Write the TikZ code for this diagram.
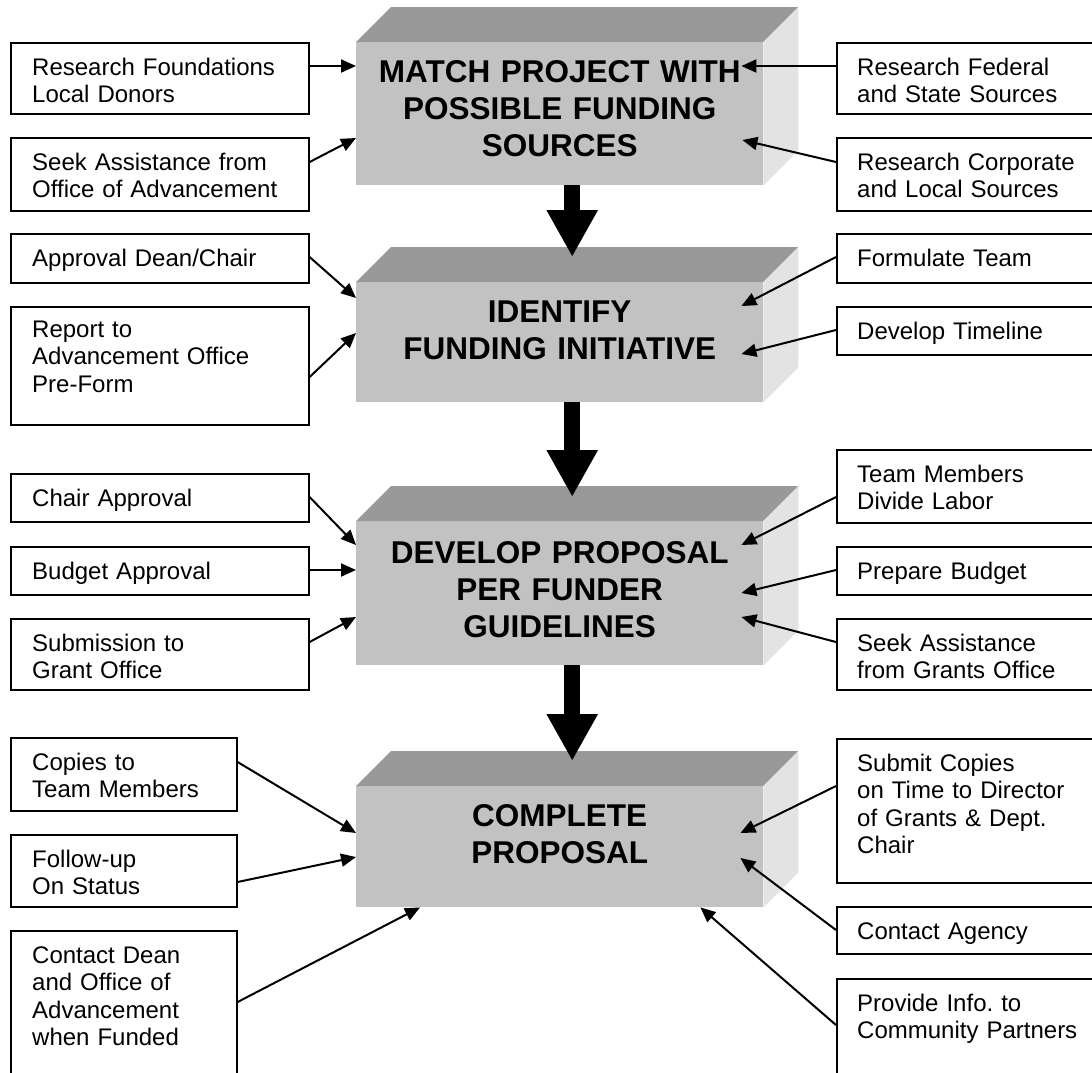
\documentclass[tikz,border=0pt]{standalone}
\usepackage{fontspec}
\setmainfont{Liberation Sans}
\usetikzlibrary{arrows.meta}
\frenchspacing

\definecolor{facetop}{gray}{0.60}
\definecolor{facefront}{gray}{0.76}
\definecolor{faceside}{gray}{0.89}

\tikzset{
  stage/.style={fill=facefront, minimum width=407pt, inner sep=0pt, anchor=north west},
  stagetext/.style={font=\bfseries\fontsize{31.5}{37}\selectfont, text width=420pt, align=center, anchor=base, inner sep=0pt},
  task/.style={draw, line width=1.6pt, inner sep=0pt, anchor=north west},
  tasktext/.style={font=\fontsize{24}{27.5}\selectfont, text width=270pt, align=left, anchor=base west, inner sep=0pt},
  feed/.style={line width=2pt, -{Triangle[length=15pt,width=13pt]}},
  flow/.style={line width=16pt, -{Triangle[length=47pt,width=48pt]}}
}

\begin{document}
\begin{tikzpicture}[x=1pt, y=-1pt, line join=miter]
  \useasboundingbox (0,0) rectangle (1092,1072);
  \clip (0,0) rectangle (1092,1072);

  % --- the four stages (front faces) ---
  \node[stage, minimum height=143pt] (b1) at (356,42) {};
  \node[stage, minimum height=120pt] (b2) at (356,282) {};
  \node[stage, minimum height=144pt] (b3) at (356,521) {};
  \node[stage, minimum height=121pt] (b4) at (356,786) {};
  % top and side faces
  \foreach \b in {b1,b2,b3,b4} {
    \fill[facetop] (\b.north west) -- ([shift={(35,-35)}]\b.north west) -- ([shift={(35,-35)}]\b.north east) -- (\b.north east) -- cycle;
    \fill[faceside] (\b.north east) -- ([shift={(35,-35)}]\b.north east) -- ([shift={(35,-35)}]\b.south east) -- (\b.south east) -- cycle;
  }
  \node[stagetext] (b1t) at ([shift={(0,40)}]b1.north) {MATCH PROJECT WITH\\POSSIBLE FUNDING\\SOURCES};
  \node[stagetext] (b2t) at ([shift={(0,40)}]b2.north) {IDENTIFY\\FUNDING INITIATIVE};
  \node[stagetext] (b3t) at ([shift={(0,42)}]b3.north) {DEVELOP PROPOSAL\\PER FUNDER\\GUIDELINES};
  \node[stagetext] (b4t) at ([shift={(0,40)}]b4.north) {COMPLETE\\PROPOSAL};

  % --- stage to stage ---
  \draw[flow] ([shift={(12.5,0)}]b1.south) -- ([shift={(12.5,-25)}]b2.north);
  \draw[flow] ([shift={(12.5,0)}]b2.south) -- ([shift={(12.5,-24)}]b3.north);
  \draw[flow] ([shift={(12.5,0)}]b3.south) -- ([shift={(12.5,-25)}]b4.north);

  % --- row 1 ---
  \node[task, minimum width=298pt, minimum height=71pt] (l1) at (10,42) {};
  \node[tasktext] (l1t) at ([shift={(22,33)}]l1.north west) {Research Foundations\\Local Donors};
  \node[task, minimum width=298pt, minimum height=73pt] (l2) at (10,137) {};
  \node[tasktext] (l2t) at ([shift={(22,33)}]l2.north west) {Seek Assistance from\\Office of Advancement};
  \node[task, minimum width=264pt, minimum height=71pt] (r1) at (836,42) {};
  \node[tasktext] (r1t) at ([shift={(21,33)}]r1.north west) {Research Federal\\and State Sources};
  \node[task, minimum width=264pt, minimum height=73pt] (r2) at (836,137) {};
  \node[tasktext] (r2t) at ([shift={(21,33)}]r2.north west) {Research Corporate\\and Local Sources};

  \draw[feed] ([shift={(0,24)}]l1.north east) -- ([shift={(0,24)}]b1.north west);
  \draw[feed] ([shift={(0,25)}]l2.north east) -- ([shift={(0,96)}]b1.north west);
  \draw[feed] ([shift={(0,24)}]r1.north west) -- ([shift={(-22,24)}]b1.north east);
  \draw[feed] ([shift={(0,25)}]r2.north west) -- ([shift={(-21,98)}]b1.north east);

  % --- row 2 ---
  \node[task, minimum width=298pt, minimum height=49pt] (l3) at (10,233) {};
  \node[tasktext] (l3t) at ([shift={(22,33)}]l3.north west) {Approval Dean/Chair};
  \node[task, minimum width=298pt, minimum height=118pt] (l4) at (10,306) {};
  \node[tasktext] (l4t) at ([shift={(22,31)}]l4.north west) {Report to\\Advancement Office\\Pre-Form};
  \node[task, minimum width=264pt, minimum height=49pt] (r3) at (836,233) {};
  \node[tasktext] (r3t) at ([shift={(21,33)}]r3.north west) {Formulate Team};
  \node[task, minimum width=264pt, minimum height=48pt] (r4) at (836,306) {};
  \node[tasktext] (r4t) at ([shift={(21,33)}]r4.north west) {Develop Timeline};

  \draw[feed] ([shift={(0,24)}]l3.north east) -- ([shift={(0,16)}]b2.north west);
  \draw[feed] ([shift={(0,71)}]l4.north east) -- ([shift={(0,51)}]b2.north west);
  \draw[feed] ([shift={(0,24)}]r3.north west) -- ([shift={(-22,24)}]b2.north east);
  \draw[feed] ([shift={(0,24)}]r4.north west) -- ([shift={(-22,72)}]b2.north east);

  % --- row 3 ---
  \node[task, minimum width=298pt, minimum height=48pt] (l5) at (10,473) {};
  \node[tasktext] (l5t) at ([shift={(22,33)}]l5.north west) {Chair Approval};
  \node[task, minimum width=298pt, minimum height=48pt] (l6) at (10,546) {};
  \node[tasktext] (l6t) at ([shift={(22,33)}]l6.north west) {Budget Approval};
  \node[task, minimum width=298pt, minimum height=71pt] (l7) at (10,618) {};
  \node[tasktext] (l7t) at ([shift={(22,33)}]l7.north west) {Submission to\\Grant Office};
  \node[task, minimum width=264pt, minimum height=73pt] (r5) at (836,449) {};
  \node[tasktext] (r5t) at ([shift={(21,33)}]r5.north west) {Team Members\\Divide Labor};
  \node[task, minimum width=264pt, minimum height=48pt] (r6) at (836,546) {};
  \node[tasktext] (r6t) at ([shift={(21,33)}]r6.north west) {Prepare Budget};
  \node[task, minimum width=264pt, minimum height=71pt] (r7) at (836,618) {};
  \node[tasktext] (r7t) at ([shift={(21,33)}]r7.north west) {Seek Assistance\\from Grants Office};

  \draw[feed] ([shift={(0,24)}]l5.north east) -- ([shift={(0,24)}]b3.north west);
  \draw[feed] ([shift={(0,24)}]l6.north east) -- ([shift={(0,49)}]b3.north west);
  \draw[feed] ([shift={(0,24)}]l7.north east) -- ([shift={(0,96)}]b3.north west);
  \draw[feed] ([shift={(0,48)}]r5.north west) -- ([shift={(-22,24)}]b3.north east);
  \draw[feed] ([shift={(0,24)}]r6.north west) -- ([shift={(-22,72)}]b3.north east);
  \draw[feed] ([shift={(0,24)}]r7.north west) -- ([shift={(-22,96)}]b3.north east);

  % --- row 4 ---
  \node[task, minimum width=226pt, minimum height=73pt] (l8) at (10,737) {};
  \node[tasktext] (l8t) at ([shift={(22,33)}]l8.north west) {Copies to\\Team Members};
  \node[task, minimum width=226pt, minimum height=72pt] (l9) at (10,834) {};
  \node[tasktext] (l9t) at ([shift={(22,33)}]l9.north west) {Follow-up\\On Status};
  \node[task, minimum width=226pt, minimum height=160pt] (l10) at (10,930) {};
  \node[tasktext] (l10t) at ([shift={(22,33)}]l10.north west) {Contact Dean\\and Office of\\Advancement\\when Funded};
  \node[task, minimum width=264pt, minimum height=144pt] (r8) at (836,738) {};
  \node[tasktext] (r8t) at ([shift={(21,33)}]r8.north west) {Submit Copies\\on Time to Director\\of Grants \& Dept.\\Chair};
  \node[task, minimum width=264pt, minimum height=47pt] (r9) at (836,906) {};
  \node[tasktext] (r9t) at ([shift={(21,33)}]r9.north west) {Contact Agency};
  \node[task, minimum width=264pt, minimum height=110pt] (r10) at (836,978) {};
  \node[tasktext] (r10t) at ([shift={(21,33)}]r10.north west) {Provide Info. to\\Community Partners};

  \draw[feed] ([shift={(0,25)}]l8.north east) -- ([shift={(0,47)}]b4.north west);
  \draw[feed] ([shift={(0,48)}]l9.north east) -- ([shift={(0,71)}]b4.north west);
  \draw[feed] ([shift={(0,72)}]l10.north east) -- ([shift={(64,0)}]b4.south west);
  \draw[feed] ([shift={(0,48)}]r8.north west) -- ([shift={(-23,47)}]b4.north east);
  \draw[feed] ([shift={(0,24)}]r9.north west) -- ([shift={(-23,72)}]b4.north east);
  \draw[feed] ([shift={(0,47)}]r10.north west) -- ([shift={(-63,0)}]b4.south east);
\end{tikzpicture}
\end{document}
